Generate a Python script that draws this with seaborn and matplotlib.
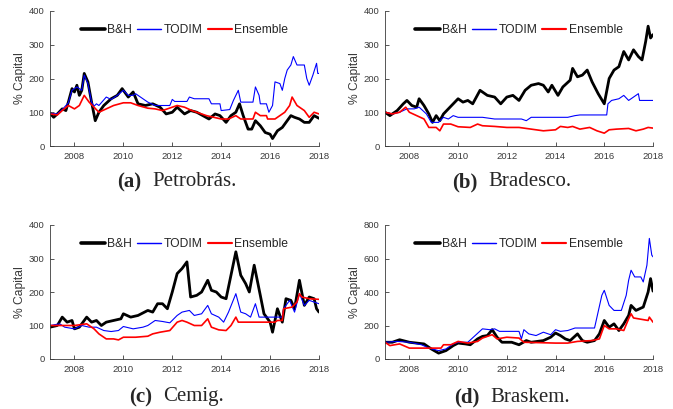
import matplotlib
matplotlib.use('Agg')
import matplotlib.pyplot as plt
import seaborn as sns
import pandas as pd

# values, as (year, % capital)
pet_bh = [(2007.0, 97), (2007.15, 85), (2007.3, 95), (2007.5, 110), (2007.65, 105), (2007.75, 130),
          (2007.9, 170), (2008.0, 160), (2008.1, 180), (2008.2, 150), (2008.3, 165), (2008.4, 215),
          (2008.55, 190), (2008.7, 130), (2008.85, 75), (2009.0, 100), (2009.2, 120), (2009.5, 140),
          (2009.75, 150), (2009.95, 170), (2010.2, 145), (2010.4, 160), (2010.6, 125), (2010.9, 120),
          (2011.2, 125), (2011.5, 115), (2011.75, 95), (2012.0, 100), (2012.2, 115), (2012.5, 95),
          (2012.75, 105), (2013.0, 100), (2013.25, 90), (2013.5, 80), (2013.75, 95), (2013.95, 90),
          (2014.2, 70), (2014.4, 90), (2014.6, 100), (2014.75, 125), (2014.9, 90), (2015.1, 50),
          (2015.25, 50), (2015.4, 75), (2015.6, 60), (2015.8, 40), (2016.0, 35), (2016.1, 22),
          (2016.3, 45), (2016.5, 55), (2016.7, 75), (2016.85, 90), (2017.0, 85), (2017.2, 80),
          (2017.4, 70), (2017.6, 70), (2017.8, 90), (2018.0, 82)]
pet_todim = [(2007.0, 97), (2007.3, 95), (2007.5, 108), (2007.75, 128), (2007.9, 165), (2008.1, 175),
             (2008.3, 165), (2008.4, 210), (2008.55, 185), (2008.7, 130), (2008.8, 118), (2008.9, 125),
             (2009.0, 120), (2009.3, 145), (2009.5, 138), (2009.75, 150), (2010.0, 165), (2010.2, 150),
             (2010.4, 150), (2010.5, 155), (2010.8, 140), (2011.0, 130), (2011.3, 120), (2011.9, 120),
             (2012.0, 138), (2012.1, 132), (2012.6, 132), (2012.7, 145), (2012.9, 140), (2013.5, 140),
             (2013.6, 125), (2013.95, 125), (2014.0, 105), (2014.35, 108), (2014.5, 135), (2014.7, 165),
             (2014.8, 130), (2015.3, 130), (2015.4, 175), (2015.55, 150), (2015.6, 125), (2015.85, 125),
             (2015.95, 100), (2016.1, 120), (2016.2, 190), (2016.4, 185), (2016.5, 165), (2016.6, 200),
             (2016.7, 225), (2016.85, 240), (2016.95, 265), (2017.1, 240), (2017.4, 240), (2017.5, 200),
             (2017.6, 180), (2017.75, 210), (2017.9, 245), (2017.95, 215), (2018.0, 215)]
pet_ens = [(2007.0, 95), (2007.3, 92), (2007.5, 105), (2007.75, 120), (2008.0, 110), (2008.2, 120),
           (2008.4, 150), (2008.6, 130), (2008.8, 115), (2009.0, 100), (2009.3, 110), (2009.6, 120),
           (2010.0, 128), (2010.3, 128), (2010.6, 120), (2011.0, 112), (2011.3, 110), (2011.6, 105),
           (2012.0, 115), (2012.2, 120), (2012.5, 115), (2012.8, 105), (2013.0, 100), (2013.4, 90),
           (2013.7, 85), (2014.0, 80), (2014.3, 80), (2014.6, 90), (2014.8, 80), (2015.3, 80),
           (2015.4, 100), (2015.6, 90), (2015.85, 90), (2015.9, 80), (2016.2, 80), (2016.4, 90),
           (2016.6, 100), (2016.8, 120), (2016.9, 145), (2017.1, 120), (2017.4, 105), (2017.6, 85),
           (2017.8, 100), (2018.0, 95)]

bra_bh = [(2007.0, 100), (2007.2, 90), (2007.5, 105), (2007.75, 125), (2007.9, 135), (2008.1, 120),
          (2008.3, 115), (2008.4, 140), (2008.6, 120), (2008.8, 95), (2008.95, 70), (2009.1, 90),
          (2009.25, 75), (2009.4, 95), (2009.6, 110), (2009.8, 125), (2010.0, 140), (2010.2, 130),
          (2010.4, 135), (2010.6, 125), (2010.9, 165), (2011.2, 150), (2011.5, 145), (2011.75, 125),
          (2012.0, 145), (2012.25, 150), (2012.5, 135), (2012.75, 165), (2013.0, 180), (2013.3, 185),
          (2013.5, 180), (2013.7, 160), (2013.85, 180), (2014.1, 150), (2014.3, 175), (2014.6, 195),
          (2014.7, 230), (2014.9, 205), (2015.1, 210), (2015.3, 225), (2015.5, 190), (2015.75, 155),
          (2016.0, 125), (2016.2, 200), (2016.4, 225), (2016.6, 235), (2016.8, 280), (2017.0, 255),
          (2017.2, 285), (2017.4, 265), (2017.55, 255), (2017.7, 310), (2017.8, 355), (2017.9, 320),
          (2018.0, 330)]
bra_todim = [(2007.0, 100), (2007.3, 95), (2007.6, 100), (2007.9, 110), (2008.2, 110), (2008.4, 115),
             (2008.7, 95), (2008.9, 70), (2009.2, 70), (2009.4, 85), (2009.6, 80), (2009.8, 90),
             (2010.0, 85), (2010.5, 85), (2011.0, 85), (2011.5, 80), (2012.0, 80), (2012.6, 80),
             (2012.8, 75), (2013.0, 85), (2013.5, 85), (2014.0, 85), (2014.5, 85), (2014.8, 90),
             (2015.0, 92), (2016.1, 92), (2016.15, 125), (2016.3, 135), (2016.6, 140), (2016.8, 150),
             (2017.0, 135), (2017.3, 150), (2017.4, 155), (2017.45, 135), (2018.0, 135)]
bra_ens = [(2007.0, 100), (2007.3, 95), (2007.6, 100), (2007.85, 115), (2008.0, 100), (2008.3, 90),
           (2008.6, 80), (2008.8, 55), (2009.1, 55), (2009.25, 45), (2009.4, 65), (2009.7, 65),
           (2010.0, 57), (2010.5, 55), (2010.8, 65), (2011.0, 60), (2011.5, 58), (2012.0, 55),
           (2012.5, 55), (2013.0, 50), (2013.5, 45), (2014.0, 48), (2014.2, 58), (2014.5, 55),
           (2014.7, 58), (2015.0, 50), (2015.4, 55), (2015.7, 45), (2016.0, 38), (2016.2, 48),
           (2016.5, 50), (2017.0, 52), (2017.3, 45), (2017.6, 50), (2017.8, 55), (2018.0, 53)]

cem_bh = [(2007.0, 95), (2007.3, 100), (2007.5, 125), (2007.7, 110), (2007.9, 115), (2008.0, 90),
          (2008.2, 95), (2008.5, 125), (2008.7, 110), (2008.9, 115), (2009.1, 100), (2009.3, 110),
          (2009.6, 115), (2009.9, 120), (2010.0, 135), (2010.3, 125), (2010.6, 130), (2011.0, 145),
          (2011.2, 140), (2011.4, 165), (2011.6, 165), (2011.8, 150), (2012.0, 200), (2012.2, 255),
          (2012.4, 270), (2012.6, 290), (2012.75, 185), (2013.0, 190), (2013.2, 200), (2013.45, 235),
          (2013.6, 205), (2013.8, 200), (2014.0, 185), (2014.2, 180), (2014.4, 250), (2014.6, 320),
          (2014.8, 250), (2015.0, 225), (2015.15, 200), (2015.35, 280), (2015.6, 190), (2015.75, 135),
          (2016.0, 110), (2016.1, 80), (2016.3, 150), (2016.5, 110), (2016.65, 180), (2016.85, 175),
          (2017.0, 150), (2017.2, 235), (2017.4, 160), (2017.6, 185), (2017.8, 180), (2017.9, 150),
          (2018.0, 140)]
cem_todim = [(2007.0, 100), (2007.4, 105), (2007.6, 95), (2008.0, 90), (2008.3, 100), (2008.6, 95),
             (2008.9, 95), (2009.2, 85), (2009.5, 82), (2009.8, 85), (2010.0, 97), (2010.4, 90),
             (2010.8, 95), (2011.0, 100), (2011.3, 115), (2011.6, 112), (2011.9, 108), (2012.2, 130),
             (2012.4, 140), (2012.7, 145), (2012.9, 130), (2013.2, 135), (2013.45, 160), (2013.6, 135),
             (2013.9, 125), (2014.1, 110), (2014.3, 140), (2014.6, 195), (2014.8, 140), (2015.0, 135),
             (2015.2, 125), (2015.4, 165), (2015.55, 125), (2016.5, 125), (2016.55, 150), (2016.8, 175),
             (2017.0, 140), (2017.2, 195), (2017.4, 160), (2017.6, 175), (2017.8, 170), (2018.0, 165)]
cem_ens = [(2007.0, 100), (2008.0, 100), (2008.5, 105), (2008.8, 90), (2009.0, 75), (2009.3, 60),
           (2009.6, 60), (2009.8, 57), (2010.0, 65), (2010.5, 65), (2011.0, 68), (2011.2, 75),
           (2011.5, 80), (2011.9, 85), (2012.2, 110), (2012.4, 115), (2012.6, 110), (2012.9, 100),
           (2013.2, 100), (2013.45, 120), (2013.6, 95), (2013.9, 87), (2014.2, 85), (2014.4, 100),
           (2014.6, 125), (2014.7, 110), (2016.2, 110), (2016.3, 115), (2016.5, 115), (2016.55, 150),
           (2016.9, 155), (2017.1, 170), (2017.2, 195), (2017.3, 185), (2017.6, 180), (2018.0, 178)]

brk_bh = [(2007.0, 100), (2007.3, 100), (2007.6, 115), (2008.0, 100), (2008.3, 95), (2008.6, 90),
          (2008.9, 60), (2009.2, 35), (2009.5, 50), (2009.8, 80), (2010.0, 95), (2010.3, 90),
          (2010.5, 85), (2010.8, 120), (2011.0, 135), (2011.2, 140), (2011.4, 175), (2011.6, 130),
          (2011.8, 100), (2012.2, 100), (2012.5, 85), (2012.8, 110), (2013.0, 100), (2013.5, 110),
          (2013.8, 130), (2014.0, 155), (2014.2, 140), (2014.4, 120), (2014.6, 110), (2014.9, 150),
          (2015.1, 110), (2015.3, 100), (2015.6, 110), (2015.8, 150), (2016.0, 230), (2016.2, 190),
          (2016.4, 210), (2016.6, 170), (2016.8, 210), (2017.0, 260), (2017.1, 320), (2017.3, 290),
          (2017.6, 310), (2017.8, 400), (2017.9, 480), (2018.0, 405)]
brk_todim = [(2007.0, 100), (2007.5, 105), (2008.0, 100), (2008.5, 85), (2008.8, 65), (2009.2, 50),
             (2009.5, 60), (2009.8, 90), (2010.0, 100), (2010.4, 100), (2010.7, 140), (2011.0, 180),
             (2011.3, 175), (2011.5, 180), (2011.7, 165), (2012.5, 165), (2012.6, 120), (2012.7, 175),
             (2012.9, 150), (2013.2, 140), (2013.5, 160), (2013.8, 145), (2014.0, 175), (2014.2, 165),
             (2014.5, 170), (2014.8, 185), (2015.6, 185), (2015.7, 250), (2015.9, 380), (2016.0, 410),
             (2016.2, 320), (2016.4, 290), (2016.7, 290), (2016.9, 380), (2017.0, 470), (2017.1, 530),
             (2017.25, 490), (2017.5, 490), (2017.6, 460), (2017.75, 560), (2017.85, 720), (2017.95, 620),
             (2018.0, 610)]
brk_ens = [(2007.0, 100), (2007.2, 80), (2007.6, 90), (2008.0, 65), (2008.5, 65), (2009.3, 65),
           (2009.4, 85), (2009.7, 85), (2010.0, 105), (2010.4, 95), (2010.8, 105), (2011.0, 125),
           (2011.4, 145), (2011.6, 120), (2012.0, 130), (2012.5, 125), (2012.7, 100), (2014.0, 95),
           (2014.5, 95), (2014.9, 105), (2015.5, 110), (2015.8, 120), (2016.0, 200), (2016.2, 180),
           (2016.5, 180), (2016.8, 170), (2017.0, 240), (2017.1, 270), (2017.2, 245), (2017.8, 230),
           (2017.85, 250), (2018.0, 220)]

panel_labels = ['(a)', '(b)', '(c)', '(d)']
panel_names = ['Petrobrás.', 'Bradesco.', 'Cemig.', 'Braskem.']
series_names = ['B&H', 'TODIM', 'Ensemble']
year_ticks = [2008, 2010, 2012, 2014, 2016, 2018]

sns.set_style('ticks')
plt.rcParams['font.family'] = ['Liberation Sans', 'DejaVu Sans']

gray = '#3a3a3a'
styles = {'B&H': ('#000000', 2.0), 'TODIM': ('#0000ff', 0.8), 'Ensemble': ('#ff0000', 1.2)}

W, H = 673, 409
fig = plt.figure(figsize=(W / 100, H / 100), dpi=100)


def make_axes(left, top, right, bottom):
    return fig.add_axes([left / W, 1 - bottom / H, (right - left) / W, (bottom - top) / H])


panels = [
    (make_axes(50, 11, 319, 146), [pet_bh, pet_todim, pet_ens], 400, 177, 182),
    (make_axes(385, 11, 653, 146), [bra_bh, bra_todim, bra_ens], 400, 512, 182),
    (make_axes(50, 225, 319, 359), [cem_bh, cem_todim, cem_ens], 400, 177, 397),
    (make_axes(385, 225, 653, 359), [brk_bh, brk_todim, brk_ens], 800, 512, 397),
]

for i, (ax, data, ymax, cap_x, cap_y) in enumerate(panels):
    for name, series in zip(series_names, data):
        df = pd.DataFrame(series, columns=['year', 'capital'])
        color, lw = styles[name]
        sns.lineplot(data=df, x='year', y='capital', ax=ax, color=color,
                     linewidth=lw, label=name, estimator=None)
    ax.set_xlim(2007, 2018)
    ax.set_ylim(0, ymax)
    ax.set_xticks(year_ticks)
    ax.set_yticks(range(0, ymax + 1, ymax // 4))
    ax.set_xlabel('')
    ax.set_ylabel('% Capital', fontsize=8.7, color=gray)
    ax.yaxis.set_label_coords(-24 / 269, 0.5)
    ax.tick_params(direction='in', length=3, width=0.6, labelsize=6.8,
                   colors=gray, pad=4)
    sns.despine(ax=ax)
    for s in ['left', 'bottom']:
        ax.spines[s].set_color(gray)
        ax.spines[s].set_linewidth(0.6)
    leg = ax.legend(loc='center', bbox_to_anchor=(0.5, 0.86), ncol=3, frameon=False,
                    fontsize=8.7, handlelength=2.0, handletextpad=0.2,
                    columnspacing=0.4, borderaxespad=0)
    for line in leg.get_lines():
        line.set_linewidth(line.get_linewidth() * 1.3)

    # caption with bold label, centered under the panel
    b = fig.text(0, 0, panel_labels[i], fontsize=15, fontweight='bold',
                 family=['Liberation Serif'], va='center')
    r = fig.text(0, 0, panel_names[i], fontsize=15,
                 family=['Liberation Serif'], va='center')
    fig.canvas.draw()
    rend = fig.canvas.get_renderer()
    wb = b.get_window_extent(rend).width
    wr = r.get_window_extent(rend).width
    gap = 11
    x0 = cap_x - (wb + gap + wr) / 2
    b.set_position((x0 / W, 1 - cap_y / H))
    r.set_position(((x0 + wb + gap) / W, 1 - cap_y / H))

fig.savefig('out.png', dpi=100)
